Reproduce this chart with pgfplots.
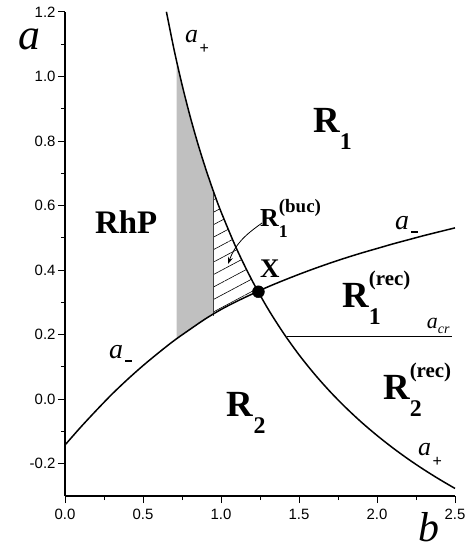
\documentclass[border=0pt]{standalone}
\usepackage{fontspec}
\setmainfont{Liberation Serif}
\newfontfamily\arial{Liberation Sans}
\usepackage{pgfplots}
\usepackage{pgfplotstable}
\pgfplotsset{compat=1.18}
\usepgfplotslibrary{fillbetween}
\usetikzlibrary{patterns.meta,arrows.meta}
\definecolor{shade}{RGB}{192,192,192}
\newcommand{\fs}[1]{\fontsize{#1}{#1}\selectfont}

\pgfplotstableread{
b a
0.0 -0.142
0.1 -0.087
0.2 -0.035
0.3 0.015
0.4 0.061
0.5 0.104
0.6 0.144
0.7 0.182
0.8 0.216
0.9 0.249
1.0 0.278
1.1 0.303
1.2 0.326
1.3 0.348
1.4 0.368
1.5 0.387
1.6 0.405
1.7 0.422
1.8 0.438
1.9 0.453
2.0 0.467
2.1 0.481
2.2 0.494
2.3 0.507
2.4 0.519
2.5 0.531
}\aminus

\pgfplotstableread{
b a
0.65 1.2007
0.70 1.0813
0.75 0.9753
0.80 0.8802
0.85 0.7945
0.90 0.7170
0.95 0.6461
1.00 0.5811
1.10 0.4661
1.20 0.3673
1.30 0.2810
1.40 0.2052
1.50 0.1377
1.60 0.0775
1.70 0.0231
1.80 -0.0261
1.90 -0.0712
2.00 -0.1124
2.10 -0.1504
2.20 -0.1856
2.30 -0.2181
2.40 -0.2483
2.50 -0.2766
}\aplus

\begin{document}
\begin{tikzpicture}
\begin{axis}[
  scale only axis, width=390bp, height=484bp,
  xmin=0, xmax=2.5, ymin=-0.3, ymax=1.2,
  axis lines=left, axis line style={-, line width=1.1bp},
  enlargelimits=false, clip=false,
  xtick={0,0.5,1,1.5,2,2.5},
  ytick={-0.2,0,0.2,0.4,0.6,0.8,1.0,1.2},
  minor x tick num=1, minor y tick num=1,
  tick align=outside,
  major tick length=7bp, minor tick length=4bp,
  tick style={line width=1bp, black},
  ticklabel style={font=\arial\fs{15}},
  xticklabel style={yshift=-3bp},
  yticklabel style={xshift=1bp},
  /pgf/number format/fixed,
  /pgf/number format/fixed zerofill,
  /pgf/number format/precision=1,
  /pgf/number format/assume math mode=true,
]
\addplot[name path=am, draw=none, smooth] table[x=b,y=a] {\aminus};
\addplot[name path=ap, draw=none, smooth] table[x=b,y=a] {\aplus};

\addplot[fill=shade, draw=none] fill between[of=ap and am, soft clip={domain=0.716:0.951}];
\addplot[draw=none, pattern={Lines[angle=28,distance=11bp,line width=0.6bp]}] fill between[of=ap and am, soft clip={domain=0.951:1.24}];
\addplot[line width=0.8bp, black!75] coordinates {(0.951,0.258) (0.951,0.645)};

\addplot[line width=1.5bp, black, smooth] table[x=b,y=a] {\aminus};
\addplot[line width=1.5bp, black, smooth] table[x=b,y=a] {\aplus};
\addplot[line width=1.5bp, black] coordinates {(1.42,0.194) (2.48,0.194)};
\addplot[only marks, mark=*, mark size=6bp, black] coordinates {(1.24,0.333)};

% axis labels
\node[anchor=base west, inner sep=0] at (rel axis cs:-0.1205,0.922) {\itshape\fs{44}a};
\node[anchor=base west, inner sep=0] at (rel axis cs:0.907,-0.094) {\itshape\fs{42}b};

% curve labels
\node[anchor=base west, inner sep=0] at (axis cs:0.769,1.104) {\itshape\fs{26}a\hspace{1.5bp}\raisebox{-11bp}{\arial\upshape\fs{16}+}};
\node[anchor=base west, inner sep=0] at (axis cs:2.263,-0.173) {\itshape\fs{26}a\hspace{1.5bp}\raisebox{-11bp}{\arial\upshape\fs{16}+}};
\node[anchor=base west, inner sep=0] at (axis cs:0.282,0.1247) {\itshape\fs{28}a\hspace{2bp}\rule[-3bp]{7bp}{2.2bp}};
\node[anchor=base west, inner sep=0] at (axis cs:2.115,0.5245) {\itshape\fs{28}a\hspace{2bp}\rule[-3bp]{7bp}{2.2bp}};
\node[anchor=base west, inner sep=0] at (axis cs:2.3186,0.2177) {\itshape\fs{22}a\raisebox{-5bp}{\fs{14}cr}};

% region labels
\node[anchor=base west, inner sep=0] at (axis cs:0.192,0.514) {\bfseries\fs{33}RhP};
\node[anchor=base west, inner sep=0] at (axis cs:1.590,0.825) {\bfseries\fs{37}R\raisebox{-17bp}{\fs{24}1}};
\node[anchor=base west, inner sep=0] at (axis cs:1.0365,-0.054) {\bfseries\fs{37}R\raisebox{-17bp}{\fs{24}2}};
\node[anchor=base west, inner sep=0] at (axis cs:1.776,0.283) {\bfseries\fs{37}R\rlap{\raisebox{-17bp}{\fs{24}1}}\raisebox{22bp}{\fs{21}(rec)}};
\node[anchor=base west, inner sep=0] at (axis cs:2.038,-0.002) {\bfseries\fs{37}R\rlap{\raisebox{-17bp}{\fs{24}2}}\raisebox{22bp}{\fs{21}(rec)}};
\node[anchor=base west, inner sep=0] at (axis cs:1.25,0.535) {\bfseries\fs{26}R\rlap{\raisebox{-11bp}{\fs{18}1}}\raisebox{14bp}{\fs{19}(buc)}};
\node[anchor=base west, inner sep=0] at (axis cs:1.25,0.3757) {\bfseries\fs{27}X};

\draw[-{Stealth[length=7bp,width=5bp]}, line width=0.8bp] (axis cs:1.263,0.546) to[out=215,in=70] (axis cs:1.045,0.419);
\end{axis}
\pgfresetboundingbox
\path ([shift={(-65bp,-54bp)}]current axis.south west) rectangle ([shift={(12bp,12bp)}]current axis.north east);
\end{tikzpicture}
\end{document}
